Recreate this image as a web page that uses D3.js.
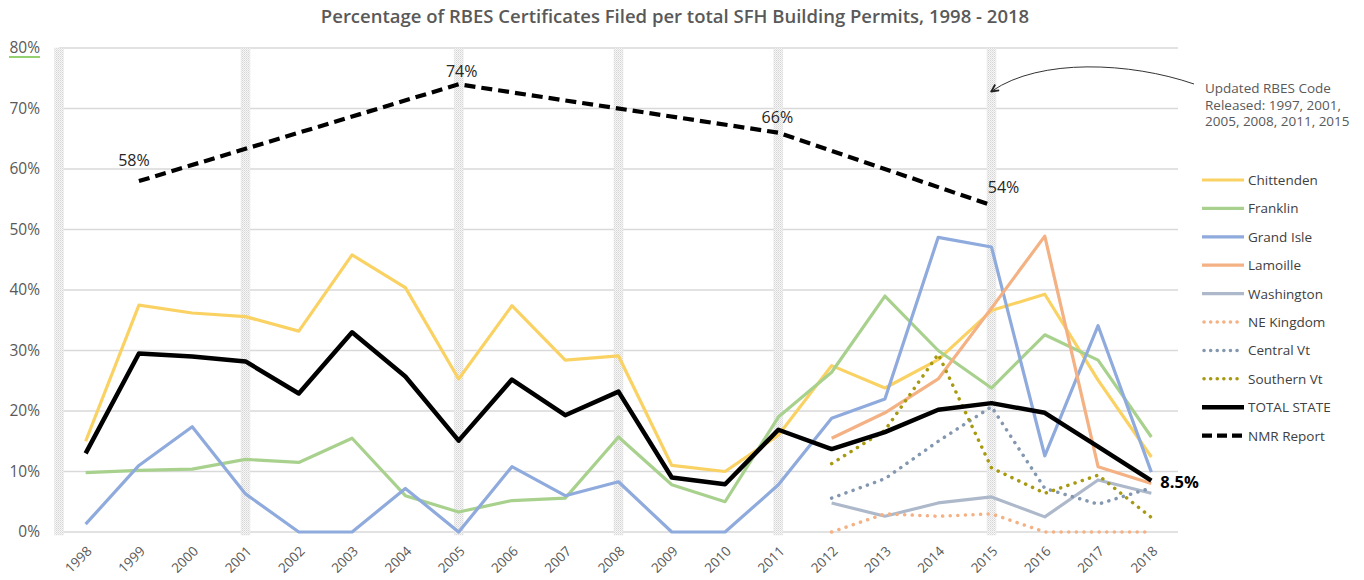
<!DOCTYPE html>
<html>
<head>
<meta charset="utf-8">
<script src="https://cdn.jsdelivr.net/npm/d3@7"></script>
<style>
  body { margin: 0; background: #fff; }
  svg { font-family: "Open Sans", "Noto Sans", sans-serif; }
</style>
</head>
<body>
<div id="chart"></div>
<script>
// DATA
const years = ['1998','1999','2000','2001','2002','2003','2004','2005','2006','2007','2008','2009','2010','2011','2012','2013','2014','2015','2016','2017','2018'];
const yTicks = [0, 10, 20, 30, 40, 50, 60, 70, 80];
const codeYears = ['2001', '2005', '2008', '2011', '2015'];

const chittenden = [15, 37.5, 36.2, 35.6, 33.2, 45.8, 40.4, 25.3, 37.4, 28.4, 29.1, 11, 10, 16, 27.5, 23.8, 28.5, 36.6, 39.3, 25.1, 12.4];
const franklin   = [9.8, 10.2, 10.4, 12, 11.5, 15.5, 6, 3.3, 5.2, 5.6, 15.7, 7.8, 5, 19, 26.4, 39, 30, 23.8, 32.6, 28.4, 15.7];
const grandIsle  = [1.3, 11, 17.4, 6.3, 0, 0, 7.2, 0, 10.8, 6, 8.3, 0, 0, 7.8, 18.8, 22, 48.7, 47.1, 12.6, 34.1, 9.9];
const lamoille   = [null, null, null, null, null, null, null, null, null, null, null, null, null, null, 15.5, 19.7, 25.3, 37, 48.9, 10.8, 8];
const washington = [null, null, null, null, null, null, null, null, null, null, null, null, null, null, 4.8, 2.6, 4.8, 5.8, 2.5, 8.6, 6.4];
const neKingdom  = [null, null, null, null, null, null, null, null, null, null, null, null, null, null, 0, 3, 2.6, 3, 0, 0, 0];
const centralVt  = [null, null, null, null, null, null, null, null, null, null, null, null, null, null, 5.6, 8.8, 15, 20.7, 7.2, 4.6, 7.3];
const southernVt = [null, null, null, null, null, null, null, null, null, null, null, null, null, null, 11.3, 16.8, 29.4, 10.6, 6.4, 9.4, 2.4];
const totalState = [13, 29.5, 29, 28.2, 22.9, 33, 25.7, 15.1, 25.2, 19.3, 23.2, 9, 7.9, 16.9, 13.7, 16.5, 20.2, 21.3, 19.7, 14.1, 8.5];
const nmrReport  = [null, 58, null, null, null, null, null, 74, null, null, null, null, null, 66, null, null, null, 54, null, null, null];

const series = [
  { name: 'Chittenden', values: chittenden, color: '#FAD264', width: 3.2, dash: null },
  { name: 'Franklin', values: franklin, color: '#A9D18E', width: 3.2, dash: null },
  { name: 'Grand Isle', values: grandIsle, color: '#8FAADC', width: 3.2, dash: null },
  { name: 'Lamoille', values: lamoille, color: '#F4B183', width: 3.2, dash: null },
  { name: 'Washington', values: washington, color: '#ADB9CA', width: 3.2, dash: null },
  { name: 'NE Kingdom', values: neKingdom, color: '#F4B183', width: 3.5, dash: 'dot' },
  { name: 'Central Vt', values: centralVt, color: '#8497B0', width: 3.5, dash: 'dot' },
  { name: 'Southern Vt', values: southernVt, color: '#A89A10', width: 3.5, dash: 'dot' },
  { name: 'TOTAL STATE', values: totalState, color: '#000', width: 4.5, dash: null },
  { name: 'NMR Report', values: nmrReport, color: '#000', width: 4.2, dash: 'dash' }
];

// DIMENSIONS
const width = 1364, height = 580;
const plotLeft = 59, plotRight = 1178, plotTop = 48, plotBottom = 532;

const svg = d3.select('#chart').append('svg')
  .attr('width', width)
  .attr('height', height);

const defs = svg.append('defs');
const hatch = defs.append('pattern')
  .attr('id', 'hatch')
  .attr('width', 2).attr('height', 2)
  .attr('patternUnits', 'userSpaceOnUse');
hatch.append('rect').attr('width', 2).attr('height', 2).attr('fill', '#f7f7f7');
hatch.append('rect').attr('width', 1).attr('height', 1).attr('fill', '#d4d4d4');
hatch.append('rect').attr('x', 1).attr('y', 1).attr('width', 1).attr('height', 1).attr('fill', '#e2e2e2');

defs.append('marker')
  .attr('id', 'arrow')
  .attr('viewBox', '0 0 10 10')
  .attr('refX', 8).attr('refY', 5)
  .attr('markerWidth', 9).attr('markerHeight', 9)
  .attr('markerUnits', 'userSpaceOnUse')
  .attr('orient', 'auto')
  .append('path')
  .attr('d', 'M1,1 L9,5 L1,9')
  .attr('fill', 'none')
  .attr('stroke', '#222')
  .attr('stroke-width', 2);

// SCALES
const xScale = d3.scaleBand().domain(years).range([plotLeft, plotRight]).padding(0);
const cx = d => xScale(d) + xScale.bandwidth() / 2;
const yScale = d3.scaleLinear().domain([0, 80]).range([plotBottom, plotTop]);

// TITLE
svg.append('text')
  .attr('x', 675).attr('y', 23)
  .attr('text-anchor', 'middle')
  .attr('font-size', 18.5)
  .attr('font-weight', 600)
  .attr('fill', '#595959')
  .text('Percentage of RBES Certificates Filed per total SFH Building Permits, 1998 - 2018');

// GRIDLINES
svg.append('g')
  .selectAll('line')
  .data(yTicks)
  .enter()
  .append('line')
  .attr('x1', plotLeft).attr('x2', plotRight)
  .attr('y1', d => yScale(d)).attr('y2', d => yScale(d))
  .attr('stroke', '#d9d9d9')
  .attr('stroke-width', 1.5);

// CODE RELEASE BARS
const barX = [plotLeft].concat(codeYears.map(cx));
svg.append('g')
  .selectAll('rect')
  .data(barX)
  .enter()
  .append('rect')
  .attr('x', d => d - 4.5)
  .attr('y', plotTop)
  .attr('width', 9)
  .attr('height', plotBottom - plotTop + 3)
  .attr('fill', 'url(#hatch)')
  .attr('stroke', '#e8e8e8')
  .attr('stroke-width', 0.5);

// Y AXIS
const yAxis = svg.append('g')
  .attr('transform', `translate(${plotLeft},0)`)
  .call(d3.axisLeft(yScale).tickValues(yTicks).tickSize(0).tickPadding(19).tickFormat(d => d + '%'));
yAxis.select('.domain').remove();
yAxis.selectAll('text')
  .attr('font-size', 15.5)
  .attr('font-family', '"Open Sans", sans-serif')
  .attr('fill', '#595959');
svg.append('line')
  .attr('x1', 9).attr('x2', 40)
  .attr('y1', 57).attr('y2', 57)
  .attr('stroke', '#70c040')
  .attr('stroke-width', 1.5);

// X AXIS LABELS
svg.append('g')
  .selectAll('text')
  .data(years)
  .enter()
  .append('text')
  .attr('transform', d => `translate(${cx(d) + 7},${plotBottom + 20})rotate(-45)`)
  .attr('text-anchor', 'end')
  .attr('font-size', 13.5)
  .attr('fill', '#595959')
  .text(d => d);

// LINES
const line = d3.line()
  .defined(d => d != null)
  .x((d, i) => cx(years[i]))
  .y(d => yScale(d));

const dashFor = s => s.dash === 'dot' ? '0.1 7.5' : s.dash === 'dash' ? '11 6' : null;

series.forEach(s => {
  const pts = s.dash === 'dash'
    ? s.values.map((v, i) => ({ v, i })).filter(p => p.v != null)
    : null;
  const path = svg.append('path')
    .attr('fill', 'none')
    .attr('stroke', s.color)
    .attr('stroke-width', s.width)
    .attr('stroke-linejoin', 'round')
    .attr('stroke-linecap', s.dash === 'dot' ? 'round' : 'butt')
    .attr('stroke-dasharray', dashFor(s));
  if (pts) {
    path.attr('d', d3.line().x(p => cx(years[p.i])).y(p => yScale(p.v))(pts));
  } else {
    path.attr('d', line(s.values));
  }
});

// NMR LABELS
const nmrOffsets = { '1999': [-5, -15], '2005': [3, -7], '2011': [-1, -10], '2015': [12, -12] };
nmrReport.forEach((v, i) => {
  if (v == null) return;
  const off = nmrOffsets[years[i]];
  svg.append('text')
    .attr('x', cx(years[i]) + off[0])
    .attr('y', yScale(v) + off[1])
    .attr('text-anchor', 'middle')
    .attr('font-size', 16)
    .attr('fill', '#262626')
    .text(v + '%');
});

// TOTAL LAST LABEL
svg.append('text')
  .attr('x', cx('2018') + 9)
  .attr('y', yScale(totalState[totalState.length - 1]) + 7)
  .attr('font-size', 16.5)
  .attr('font-weight', 700)
  .attr('fill', '#000')
  .text(totalState[totalState.length - 1] + '%');

// LEGEND
const legend = svg.append('g').attr('transform', 'translate(1202,180)');
series.forEach((s, i) => {
  const row = legend.append('g').attr('transform', `translate(0,${i * 28.4})`);
  row.append('line')
    .attr('x1', s.dash === 'dot' ? 2 : 0).attr('x2', s.dash === 'dot' ? 38 : 42)
    .attr('stroke', s.color)
    .attr('stroke-width', s.width)
    .attr('stroke-linecap', s.dash === 'dot' ? 'round' : 'butt')
    .attr('stroke-dasharray', s.dash === 'dot' ? '0.1 6.5' : s.dash === 'dash' ? '10 5' : null);
  row.append('text')
    .attr('x', 46).attr('y', 5)
    .attr('font-size', 13.5)
    .attr('fill', '#404040')
    .text(s.name);
});

// ANNOTATION
const note = ['Updated RBES Code', 'Released: 1997, 2001,', '2005, 2008, 2011, 2015'];
svg.append('g')
  .selectAll('text')
  .data(note)
  .enter()
  .append('text')
  .attr('x', 1205)
  .attr('y', (d, i) => 93 + i * 16.5)
  .attr('font-size', 13.5)
  .attr('fill', '#595959')
  .text(d => d);

svg.append('path')
  .attr('d', 'M1194,84 C1130,62 1040,58 992,91')
  .attr('fill', 'none')
  .attr('stroke', '#333')
  .attr('stroke-width', 1)
  .attr('marker-end', 'url(#arrow)');
</script>
</body>
</html>
